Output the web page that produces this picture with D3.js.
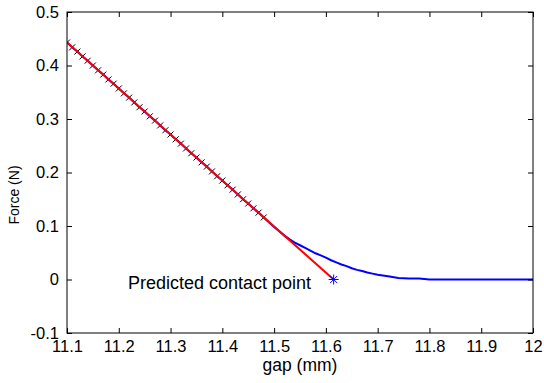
<!DOCTYPE html>
<html>
<head>
<meta charset="utf-8">
<script src="https://cdn.jsdelivr.net/npm/d3@7"></script>
<style>
  body { margin: 0; background: #fff; }
  svg { display: block; font-family: Arial, "Liberation Sans", sans-serif; }
</style>
</head>
<body>
<svg id="chart" width="544" height="383"></svg>
<script>
// measured force curve
const gapMm = [11.10, 11.11, 11.12, 11.13, 11.14, 11.15, 11.16, 11.17, 11.18, 11.19,
    11.20, 11.21, 11.22, 11.23, 11.24, 11.25, 11.26, 11.27, 11.28, 11.29,
    11.30, 11.31, 11.32, 11.33, 11.34, 11.35, 11.36, 11.37, 11.38, 11.39,
    11.40, 11.41, 11.42, 11.43, 11.44, 11.45, 11.46, 11.47, 11.48,
    11.49, 11.50, 11.51, 11.52, 11.53, 11.54, 11.55, 11.56, 11.57, 11.58, 11.59,
    11.60, 11.61, 11.62, 11.63, 11.64, 11.65, 11.66, 11.67, 11.68, 11.69,
    11.70, 11.72, 11.74, 11.76, 11.78, 11.80, 11.85, 11.90, 11.95, 12.00];
const forceN = [0.443, 0.434, 0.426, 0.417, 0.409, 0.400, 0.391, 0.383, 0.374, 0.366,
    0.357, 0.348, 0.340, 0.331, 0.322, 0.314, 0.305, 0.297, 0.288, 0.279,
    0.271, 0.262, 0.254, 0.245, 0.236, 0.228, 0.219, 0.211, 0.202, 0.193,
    0.185, 0.176, 0.168, 0.159, 0.150, 0.142, 0.133, 0.125, 0.116,
    0.107, 0.098, 0.090, 0.082, 0.075, 0.069, 0.064, 0.059, 0.054, 0.049, 0.045,
    0.041, 0.036, 0.032, 0.028, 0.025, 0.021, 0.018, 0.016, 0.013, 0.011,
    0.009, 0.006, 0.003, 0.002, 0.002, 0.000, 0.000, 0.000, 0.000, 0.000];

// points used for the linear fit (black markers)
const fitCount = 39;

// linear fit and its zero crossing
const fitGap = [11.10, 11.615];
const fitForce = [0.443, 0.0];
const contactGap = 11.615;
const contactForce = 0.0;
const contactLabel = "Predicted contact point";

const xTicks = [11.1, 11.2, 11.3, 11.4, 11.5, 11.6, 11.7, 11.8, 11.9, 12];
const yTicks = [-0.1, 0, 0.1, 0.2, 0.3, 0.4, 0.5];

const margin = { top: 12, right: 11, bottom: 50, left: 67 };
const width = 544, height = 383;

const svg = d3.select("#chart");

const x = d3.scaleLinear()
    .domain([11.1, 12])
    .range([margin.left, width - margin.right]);

const y = d3.scaleLinear()
    .domain([-0.1, 0.5])
    .range([height - margin.bottom, margin.top]);

const data = gapMm.map((g, i) => ({ gap: g, force: forceN[i] }));
const fitPts = fitGap.map((g, i) => ({ gap: g, force: fitForce[i] }));

const line = d3.line()
    .x(d => x(d.gap))
    .y(d => y(d.force));

svg.append("defs").append("clipPath")
    .attr("id", "clip")
    .append("rect")
    .attr("x", x.range()[0])
    .attr("y", y.range()[1])
    .attr("width", x.range()[1] - x.range()[0])
    .attr("height", y.range()[0] - y.range()[1]);

const plot = svg.append("g").attr("clip-path", "url(#clip)");

plot.append("path")
    .datum(data)
    .attr("fill", "none")
    .attr("stroke", "#0000ff")
    .attr("stroke-width", 2)
    .attr("d", line);

// black x markers on the fitted points
const ms = 3;
plot.selectAll(".mk")
    .data(data.slice(0, fitCount))
    .join("path")
    .attr("class", "mk")
    .attr("fill", "none")
    .attr("stroke", "#000")
    .attr("stroke-width", 1)
    .attr("d", d => {
        const cx = x(d.gap), cy = y(d.force);
        return `M${cx - ms},${cy - ms}L${cx + ms},${cy + ms}M${cx - ms},${cy + ms}L${cx + ms},${cy - ms}`;
    });

plot.append("path")
    .datum(fitPts)
    .attr("fill", "none")
    .attr("stroke", "#ff0000")
    .attr("stroke-width", 2)
    .attr("d", line);

// star marker at the contact point
const ss = 5;
const sx = x(contactGap), sy = y(contactForce);
svg.append("path")
    .attr("fill", "none")
    .attr("stroke", "#0000ff")
    .attr("stroke-width", 1)
    .attr("d", `M${sx - ss},${sy}L${sx + ss},${sy}M${sx},${sy - ss}L${sx},${sy + ss}` +
        `M${sx - ss * 0.7},${sy - ss * 0.7}L${sx + ss * 0.7},${sy + ss * 0.7}` +
        `M${sx - ss * 0.7},${sy + ss * 0.7}L${sx + ss * 0.7},${sy - ss * 0.7}`);

svg.append("text")
    .attr("x", x(11.1) + 61)
    .attr("y", y(contactForce) + 9)
    .attr("font-size", 18)
    .attr("fill", "#000")
    .text(contactLabel);

// axes, matlab style box with inward ticks
const fmt = d => String(+d.toFixed(1));

svg.append("g")
    .attr("transform", `translate(0,${y.range()[0]})`)
    .call(d3.axisBottom(x).tickValues(xTicks).tickSize(-5).tickPadding(7).tickFormat(fmt))
    .call(g => g.select(".domain").remove());

svg.append("g")
    .attr("transform", `translate(0,${y.range()[1]})`)
    .call(d3.axisTop(x).tickValues(xTicks).tickSize(-5).tickFormat(""))
    .call(g => g.select(".domain").remove());

svg.append("g")
    .attr("transform", `translate(${x.range()[0]},0)`)
    .call(d3.axisLeft(y).tickValues(yTicks).tickSize(-5).tickPadding(8).tickFormat(fmt))
    .call(g => g.select(".domain").remove());

svg.append("g")
    .attr("transform", `translate(${x.range()[1]},0)`)
    .call(d3.axisRight(y).tickValues(yTicks).tickSize(-5).tickFormat(""))
    .call(g => g.select(".domain").remove());

svg.selectAll(".tick text")
    .attr("font-size", 16.5)
    .attr("font-family", "Arial, 'Liberation Sans', sans-serif")
    .attr("fill", "#000");
svg.selectAll(".tick line").attr("stroke", "#000");

svg.append("rect")
    .attr("x", x.range()[0])
    .attr("y", y.range()[1])
    .attr("width", x.range()[1] - x.range()[0])
    .attr("height", y.range()[0] - y.range()[1])
    .attr("fill", "none")
    .attr("stroke", "#000")
    .attr("stroke-width", 1);

svg.append("text")
    .attr("x", (x.range()[0] + x.range()[1]) / 2)
    .attr("y", 371)
    .attr("text-anchor", "middle")
    .attr("font-size", 17.5)
    .text("gap (mm)");

svg.append("text")
    .attr("transform", `translate(19,195) rotate(-90)`)
    .attr("text-anchor", "middle")
    .attr("font-size", 14)
    .text("Force (N)");
</script>
</body>
</html>
